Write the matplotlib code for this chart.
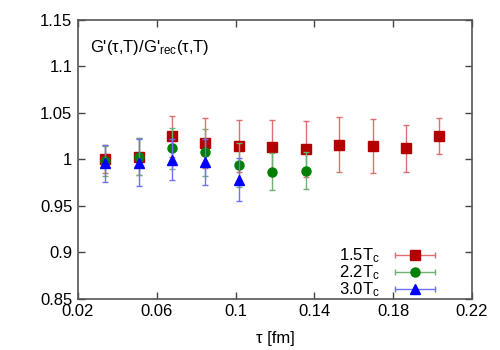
import numpy as np
import matplotlib.pyplot as plt
from matplotlib.lines import Line2D
from matplotlib.legend_handler import HandlerLine2D, HandlerTuple

plt.rcParams['font.family'] = ['Liberation Sans', 'DejaVu Sans']
plt.rcParams['mathtext.fontset'] = 'custom'
plt.rcParams['mathtext.rm'] = 'Liberation Sans'
plt.rcParams['mathtext.it'] = 'Liberation Sans:italic'

# tau values [fm]
tau = [0.0339, 0.0508, 0.0678, 0.0847, 0.1017, 0.1186, 0.1356,
       0.1525, 0.1695, 0.1864, 0.2034]

# 1.5 Tc
r15 = [1.000, 1.003, 1.025, 1.018, 1.0145, 1.0135, 1.011, 1.016, 1.0145, 1.012, 1.0255]
e15 = [0.015, 0.020, 0.022, 0.027, 0.028, 0.029, 0.030, 0.030, 0.029, 0.025, 0.0195]
# 2.2 Tc
r22 = [0.998, 1.003, 1.012, 1.0075, 0.994, 0.987, 0.988]
e22 = [0.016, 0.020, 0.022, 0.025, 0.024, 0.020, 0.020]
# 3.0 Tc
r30 = [0.996, 0.9965, 0.9995, 0.997, 0.978]
e30 = [0.020, 0.025, 0.022, 0.025, 0.023]

series = [
    ("1.5T$_{\\rm c}$", r15, e15, "#b40000", "#dc7070", "s", 6.5),
    ("2.2T$_{\\rm c}$", r22, e22, "#008000", "#70b070", "o", 6.5),
    ("3.0T$_{\\rm c}$", r30, e30, "#0000ff", "#7070ff", "^", 6.5),
]

fig = plt.figure(figsize=(5, 3.5), dpi=100)
ax = fig.add_axes([0.156, 0.146, 0.788, 0.797])

handles = []
hmap = {}
for lab, y, e, c, ce, m, ms in series:
    x = tau[:len(y)]
    ax.errorbar(x, y, yerr=e, fmt="none", ecolor=ce, elinewidth=1, capsize=2.5, capthick=1)
    ax.plot(x, y, ls="none", marker=m, color=c, ms=ms)
    caps = Line2D([], [], color=ce, lw=1, marker="|", ms=5, mew=1)
    mk = Line2D([], [], ls="none", marker=m, color=c, ms=ms)
    hmap[caps] = HandlerLine2D(numpoints=2)
    hmap[mk] = HandlerLine2D(numpoints=1)
    handles.append((caps, mk))

hmap[tuple] = HandlerTuple(ndivide=1, pad=0)
ax.legend(handles, [s[0] for s in series], handler_map=hmap, loc="lower right",
          frameon=False, markerfirst=False, fontsize=12, handlelength=3.0,
          handletextpad=0.6, labelspacing=-0.1, borderaxespad=0.0,
          bbox_to_anchor=(0.935, -0.025))

ax.set_xlim(0.02, 0.22)
ax.set_ylim(0.85, 1.15)
ax.set_xticks([0.02, 0.06, 0.1, 0.14, 0.18, 0.22])
ax.set_xticklabels(["0.02", "0.06", "0.1", "0.14", "0.18", "0.22"])
ax.set_yticks([0.85, 0.9, 0.95, 1.0, 1.05, 1.1, 1.15])
ax.set_yticklabels(["0.85", "0.9", "0.95", "1", "1.05", "1.1", "1.15"])
ax.tick_params(direction="in", top=True, right=True, length=5, width=1,
               labelsize=12, color="#444444", pad=4)
for sp in ax.spines.values():
    sp.set_color("#555555")
    sp.set_linewidth(1.2)

ax.set_xlabel("τ [fm]", fontsize=12, labelpad=8)
ax.text(0.03, 0.9, "G'(τ,T)/G'$_{\\rm rec}$(τ,T)", transform=ax.transAxes,
        fontsize=12, va="center", ha="left")

fig.savefig("out.png", dpi=100)
